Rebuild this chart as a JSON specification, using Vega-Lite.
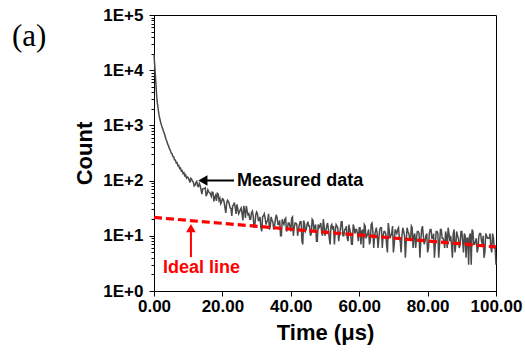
{
"$schema":"https://vega.github.io/schema/vega-lite/v6.json",
"width":342,"height":276,
"autosize":"none",
"padding":{"left":154,"top":15,"right":29,"bottom":65},
"background":"white",
"title":{"text":"(a)","anchor":"start","frame":"group","font":"Liberation Serif","fontSize":31,"fontWeight":"normal","color":"black","dx":-142,"dy":47,"offset":0},
"config":{"view":{"stroke":"black","strokeWidth":1},
"axis":{"grid":false,"domainColor":"black","tickColor":"black","labelColor":"black","titleColor":"black","labelFont":"Liberation Sans","titleFont":"Liberation Sans","labelFontWeight":"bold","titleFontWeight":"bold","labelFontSize":17,"titleFontSize":22,"labelFlush":false,"labelOverlap":false,"labelBound":false}},
"layer":[
{"data":{"values":[
{"t":0,"c":19500},{"t":0.2,"c":12500},{"t":0.4,"c":8200},{"t":0.6,"c":5200},{"t":0.8,"c":3300},{"t":1.0,"c":2500},{"t":1.25,"c":1900},{"t":1.5,"c":1500},{"t":1.75,"c":1280},{"t":2.0,"c":1100},{"t":2.25,"c":980},{"t":2.5,"c":880},{"t":2.75,"c":790},
{"t":3.0,"c":720},{"t":3.25,"c":642},{"t":3.5,"c":560},{"t":3.75,"c":516},{"t":4.0,"c":458},{"t":4.25,"c":426},{"t":4.5,"c":378},{"t":4.75,"c":358},{"t":5.0,"c":318},{"t":5.25,"c":309},{"t":5.5,"c":274},{"t":5.75,"c":270},{"t":6.0,"c":238},{"t":6.25,"c":236},{"t":6.5,"c":210},{"t":6.75,"c":211},{"t":7.0,"c":186},{"t":7.25,"c":188},{"t":7.5,"c":166},{"t":7.75,"c":169},{"t":8.0,"c":149},{"t":8.25,"c":152},{"t":8.5,"c":134},{"t":8.75,"c":139},{"t":9.0,"c":122},{"t":9.25,"c":127},{"t":9.5,"c":111},{"t":9.75,"c":116},
{"t":10,"c":113},{"t":10.25,"c":103},{"t":10.5,"c":92},{"t":10.75,"c":110},{"t":11,"c":106},{"t":11.25,"c":97},{"t":11.5,"c":94},{"t":11.75,"c":80},{"t":12,"c":83},{"t":12.25,"c":92},{"t":12.5,"c":97},{"t":12.75,"c":80},{"t":13,"c":78},{"t":13.25,"c":89},{"t":13.5,"c":81},{"t":13.75,"c":68},{"t":14,"c":57},{"t":14.25,"c":71},{"t":14.5,"c":72},{"t":14.75,"c":72},{"t":15,"c":74},{"t":15.25,"c":52},{"t":15.5,"c":57},{"t":15.75,"c":68},{"t":16,"c":62},{"t":16.25,"c":61},{"t":16.5,"c":57},{"t":16.75,"c":52},{"t":17,"c":62},{"t":17.25,"c":61},{"t":17.5,"c":42},{"t":17.75,"c":50},{"t":18,"c":54},{"t":18.25,"c":43},{"t":18.5,"c":59},{"t":18.75,"c":57},{"t":19,"c":44},{"t":19.25,"c":48},{"t":19.5,"c":38},{"t":19.75,"c":41},
{"t":20,"c":47},{"t":20.25,"c":46},{"t":20.5,"c":41},{"t":20.75,"c":32},{"t":21,"c":26},{"t":21.25,"c":39},{"t":21.5,"c":44},{"t":21.75,"c":42},{"t":22,"c":38},{"t":22.25,"c":32},{"t":22.5,"c":31},{"t":22.75,"c":23},{"t":23,"c":35},{"t":23.25,"c":36},{"t":23.5,"c":40},{"t":23.75,"c":32},{"t":24,"c":25},{"t":24.25,"c":37},{"t":24.5,"c":31},{"t":24.75,"c":25},{"t":25,"c":27},{"t":25.25,"c":30},{"t":25.5,"c":32},{"t":25.75,"c":25},{"t":26,"c":19},{"t":26.25,"c":35},{"t":26.5,"c":29},{"t":26.75,"c":21},{"t":27,"c":35},{"t":27.25,"c":28},{"t":27.5,"c":24},{"t":27.75,"c":25},{"t":28,"c":20},{"t":28.25,"c":20},{"t":28.5,"c":26},{"t":28.75,"c":28},{"t":29,"c":23},{"t":29.25,"c":14},{"t":29.5,"c":16},{"t":29.75,"c":24},
{"t":30,"c":27},{"t":30.25,"c":25},{"t":30.5,"c":19},{"t":30.75,"c":19},{"t":31,"c":22},{"t":31.25,"c":14},{"t":31.5,"c":12},{"t":31.75,"c":22},{"t":32,"c":23},{"t":32.25,"c":25},{"t":32.5,"c":21},{"t":32.75,"c":16},{"t":33,"c":18},{"t":33.25,"c":19},{"t":33.5,"c":25},{"t":33.75,"c":13},{"t":34,"c":15},{"t":34.25,"c":22},{"t":34.5,"c":19},{"t":34.75,"c":18},{"t":35,"c":13},{"t":35.25,"c":15},{"t":35.5,"c":20},{"t":35.75,"c":24},{"t":36,"c":21},{"t":36.25,"c":16},{"t":36.5,"c":16},{"t":36.75,"c":19},{"t":37,"c":10},{"t":37.25,"c":10},{"t":37.5,"c":20},{"t":37.75,"c":17},{"t":38,"c":16},{"t":38.25,"c":20},{"t":38.5,"c":21},{"t":38.75,"c":12},{"t":39,"c":13},{"t":39.25,"c":17},{"t":39.5,"c":17},{"t":39.75,"c":15},
{"t":40,"c":12},{"t":40.25,"c":21},{"t":40.5,"c":22},{"t":40.75,"c":10},{"t":41,"c":14},{"t":41.25,"c":17},{"t":41.5,"c":17},{"t":41.75,"c":16},{"t":42,"c":10},{"t":42.25,"c":13},{"t":42.5,"c":16},{"t":42.75,"c":18},{"t":43,"c":18},{"t":43.25,"c":8},{"t":43.5,"c":7},{"t":43.75,"c":19},{"t":44,"c":17},{"t":44.25,"c":12},{"t":44.5,"c":13},{"t":44.75,"c":16},{"t":45,"c":18},{"t":45.25,"c":15},{"t":45.5,"c":15},{"t":45.75,"c":10},{"t":46,"c":11},{"t":46.25,"c":20},{"t":46.5,"c":19},{"t":46.75,"c":13},{"t":47,"c":14},{"t":47.25,"c":16},{"t":47.5,"c":8},{"t":47.75,"c":8},{"t":48,"c":16},{"t":48.25,"c":14},{"t":48.5,"c":15},{"t":48.75,"c":17},{"t":49,"c":12},{"t":49.25,"c":10},{"t":49.5,"c":20},{"t":49.75,"c":15},
{"t":50,"c":10},{"t":50.25,"c":12},{"t":50.5,"c":15},{"t":50.75,"c":17},{"t":51,"c":13},{"t":51.25,"c":9},{"t":51.5,"c":7},{"t":51.75,"c":15},{"t":52,"c":16},{"t":52.25,"c":13},{"t":52.5,"c":15},{"t":52.75,"c":7},{"t":53,"c":12},{"t":53.25,"c":16},{"t":53.5,"c":15},{"t":53.75,"c":14},{"t":54,"c":8},{"t":54.25,"c":11},{"t":54.5,"c":13},{"t":54.75,"c":18},{"t":55,"c":18},{"t":55.25,"c":10},{"t":55.5,"c":10},{"t":55.75,"c":13},{"t":56,"c":13},{"t":56.25,"c":15},{"t":56.5,"c":9},{"t":56.75,"c":8},{"t":57,"c":16},{"t":57.25,"c":13},{"t":57.5,"c":11},{"t":57.75,"c":7},{"t":58,"c":7},{"t":58.25,"c":16},{"t":58.5,"c":14},{"t":58.75,"c":11},{"t":59,"c":13},{"t":59.25,"c":13},{"t":59.5,"c":11},{"t":59.75,"c":8},
{"t":60,"c":14},{"t":60.25,"c":14},{"t":60.5,"c":7},{"t":60.75,"c":12},{"t":61,"c":13},{"t":61.25,"c":6},{"t":61.5,"c":16},{"t":61.75,"c":15},{"t":62,"c":9},{"t":62.25,"c":10},{"t":62.5,"c":11},{"t":62.75,"c":13},{"t":63,"c":7},{"t":63.25,"c":8},{"t":63.5,"c":16},{"t":63.75,"c":17},{"t":64,"c":12},{"t":64.25,"c":6},{"t":64.5,"c":10},{"t":64.75,"c":12},{"t":65,"c":14},{"t":65.25,"c":11},{"t":65.5,"c":6},{"t":65.75,"c":9},{"t":66,"c":13},{"t":66.25,"c":14},{"t":66.5,"c":14},{"t":66.75,"c":6},{"t":67,"c":10},{"t":67.25,"c":12},{"t":67.5,"c":12},{"t":67.75,"c":11},{"t":68,"c":7},{"t":68.25,"c":5},{"t":68.5,"c":17},{"t":68.75,"c":13},{"t":69,"c":9},{"t":69.25,"c":10},{"t":69.5,"c":11},{"t":69.75,"c":15},
{"t":70,"c":5},{"t":70.25,"c":7},{"t":70.5,"c":13},{"t":70.75,"c":12},{"t":71,"c":11},{"t":71.25,"c":13},{"t":71.5,"c":14},{"t":71.75,"c":9},{"t":72,"c":8},{"t":72.25,"c":5},{"t":72.5,"c":10},{"t":72.75,"c":14},{"t":73,"c":12},{"t":73.25,"c":10},{"t":73.5,"c":4},{"t":73.75,"c":8},{"t":74,"c":14},{"t":74.25,"c":12},{"t":74.5,"c":11},{"t":74.75,"c":9},{"t":75,"c":8},{"t":75.25,"c":15},{"t":75.5,"c":14},{"t":75.75,"c":6},{"t":76,"c":10},{"t":76.25,"c":11},{"t":76.5,"c":6},{"t":76.75,"c":9},{"t":77,"c":12},{"t":77.25,"c":12},{"t":77.5,"c":11},{"t":77.75,"c":4},{"t":78,"c":8},{"t":78.25,"c":13},{"t":78.5,"c":15},{"t":78.75,"c":10},{"t":79,"c":7},{"t":79.25,"c":8},{"t":79.5,"c":10},{"t":79.75,"c":11},
{"t":80,"c":5},{"t":80.25,"c":6},{"t":80.5,"c":11},{"t":80.75,"c":13},{"t":81,"c":13},{"t":81.25,"c":9},{"t":81.5,"c":9},{"t":81.75,"c":11},{"t":82,"c":4},{"t":82.25,"c":7},{"t":82.5,"c":12},{"t":82.75,"c":12},{"t":83,"c":11},{"t":83.25,"c":4},{"t":83.5,"c":7},{"t":83.75,"c":13},{"t":84,"c":13},{"t":84.25,"c":9},{"t":84.5,"c":9},{"t":84.75,"c":8},{"t":85,"c":6},{"t":85.25,"c":12},{"t":85.5,"c":10},{"t":85.75,"c":6},{"t":86,"c":14},{"t":86.25,"c":11},{"t":86.5,"c":8},{"t":86.75,"c":10},{"t":87,"c":7},{"t":87.25,"c":4},{"t":87.5,"c":11},{"t":87.75,"c":13},{"t":88,"c":5},{"t":88.25,"c":7},{"t":88.5,"c":12},{"t":88.75,"c":10},{"t":89,"c":9},{"t":89.25,"c":6},{"t":89.5,"c":7},{"t":89.75,"c":12},
{"t":90,"c":12},{"t":90.25,"c":8},{"t":90.5,"c":5},{"t":90.75,"c":11},{"t":91,"c":10},{"t":91.25,"c":4},{"t":91.5,"c":9},{"t":91.75,"c":9},{"t":92,"c":3},{"t":92.25,"c":10},{"t":92.5,"c":11},{"t":92.75,"c":3},{"t":93,"c":13},{"t":93.25,"c":12},{"t":93.5,"c":7},{"t":93.75,"c":7},{"t":94,"c":8},{"t":94.25,"c":9},{"t":94.5,"c":5},{"t":94.75,"c":6},{"t":95,"c":10},{"t":95.25,"c":11},{"t":95.5,"c":11},{"t":95.75,"c":8},{"t":96,"c":7},{"t":96.25,"c":10},{"t":96.5,"c":4},{"t":96.75,"c":5},{"t":97,"c":11},{"t":97.25,"c":10},{"t":97.5,"c":9},{"t":97.75,"c":9},{"t":98,"c":9},{"t":98.25,"c":11},{"t":98.5,"c":6},{"t":98.75,"c":5},{"t":99,"c":11},{"t":99.25,"c":9},{"t":99.5,"c":6},{"t":99.75,"c":6},{"t":100,"c":3}
]},
"mark":{"type":"line","color":"#4a4a4a","strokeWidth":1.5},
"encoding":{
"x":{"field":"t","type":"quantitative","scale":{"domain":[0,100],"nice":false,"zero":false},
"axis":{"title":"Time (μs)","values":[0,10,20,30,40,50,60,70,80,90,100],"labelExpr":"datum.value % 20 == 0 ? format(datum.value, '.2f') : ''","tickSize":{"condition":{"test":"datum.value % 20 != 0","value":3},"value":5},"labelPadding":2,"titlePadding":8}},
"y":{"field":"c","type":"quantitative","scale":{"type":"log","domain":[1,100000],"nice":false},
"axis":{"title":"Count","values":[1,2,3,4,5,6,7,8,9,10,20,30,40,50,60,70,80,90,100,200,300,400,500,600,700,800,900,1000,2000,3000,4000,5000,6000,7000,8000,9000,10000,20000,30000,40000,50000,60000,70000,80000,90000,100000],"labelExpr":"abs(log(datum.value)/LN10 - round(log(datum.value)/LN10)) < 0.000001 ? '1E+' + round(log(datum.value)/LN10) : ''","tickSize":{"condition":{"test":"abs(log(datum.value)/LN10 - round(log(datum.value)/LN10)) > 0.000001","value":3},"value":5},"labelPadding":6,"titlePadding":6}}
}},
{"data":{"values":[{"t":0,"c":21.5},{"t":100,"c":6.3}]},
"mark":{"type":"line","color":"#ff0000","strokeWidth":3.2,"strokeDash":[8,4]},
"encoding":{"x":{"field":"t","type":"quantitative"},"y":{"field":"c","type":"quantitative"}}},
{"data":{"values":[{"t":14.3,"t2":23.4,"c":100}]},
"mark":{"type":"rule","color":"black","strokeWidth":2},
"encoding":{"x":{"field":"t","type":"quantitative"},"x2":{"field":"t2"},"y":{"field":"c","type":"quantitative"}}},
{"data":{"values":[{"t":14.3,"c":100}]},
"mark":{"type":"point","shape":"triangle-left","filled":true,"color":"black","size":110,"opacity":1},
"encoding":{"x":{"field":"t","type":"quantitative"},"y":{"field":"c","type":"quantitative"}}},
{"data":{"values":[{"t":10.8,"c":4.1,"c2":13.8}]},
"mark":{"type":"rule","color":"#ff0000","strokeWidth":2},
"encoding":{"x":{"field":"t","type":"quantitative"},"y":{"field":"c","type":"quantitative"},"y2":{"field":"c2"}}},
{"data":{"values":[{"t":10.8,"c":13.8}]},
"mark":{"type":"point","shape":"triangle-up","filled":true,"color":"#ff0000","size":90,"opacity":1},
"encoding":{"x":{"field":"t","type":"quantitative"},"y":{"field":"c","type":"quantitative"}}},
{"data":{"values":[{"t":24.3,"c":100,"label":"Measured data"}]},
"mark":{"type":"text","align":"left","baseline":"middle","font":"Liberation Sans","fontWeight":"bold","fontSize":18,"color":"black"},
"encoding":{"x":{"field":"t","type":"quantitative"},"y":{"field":"c","type":"quantitative"},"text":{"field":"label"}}},
{"data":{"values":[{"t":2.6,"c":2.6,"label":"Ideal line"}]},
"mark":{"type":"text","align":"left","baseline":"middle","font":"Liberation Sans","fontWeight":"bold","fontSize":18,"color":"#ff0000"},
"encoding":{"x":{"field":"t","type":"quantitative"},"y":{"field":"c","type":"quantitative"},"text":{"field":"label"}}}
]
}
